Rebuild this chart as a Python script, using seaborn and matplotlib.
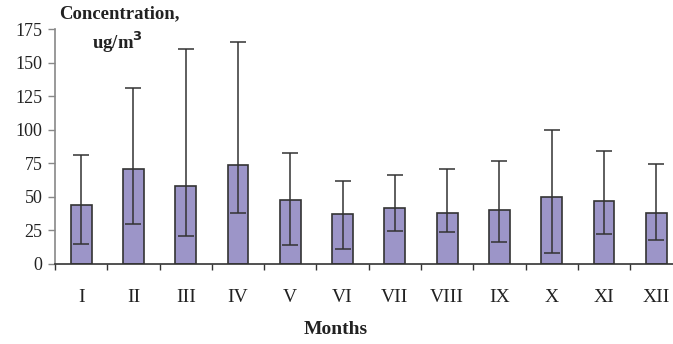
import matplotlib
matplotlib.use("Agg")
import matplotlib.pyplot as plt
import pandas as pd
import seaborn as sns
import numpy as np

# Monthly mean concentration with lower / upper whisker ends (ug/m3)
months = ["I", "II", "III", "IV", "V", "VI", "VII", "VIII", "IX", "X", "XI", "XII"]
mean_conc = [44, 71, 58, 74, 48, 37, 42, 38, 40, 50, 47, 38]
err_low = [15, 29.5, 20.5, 38, 14, 11, 24.5, 23.5, 16.5, 8, 22, 18]
err_high = [81.5, 131, 160, 165.5, 82.5, 62, 66, 70.5, 77, 100, 84.5, 74.5]

df = pd.DataFrame({"month": months, "value": mean_conc})

sns.set_style("white")
plt.rcParams["font.family"] = ["Liberation Serif", "DejaVu Serif"]

fig = plt.figure(figsize=(6.73, 3.44), dpi=100)
ax = fig.add_axes([55 / 673, 80 / 344, 1 - 55 / 673, 235 / 344])

sns.barplot(data=df, x="month", y="value", order=months, color="#9c95c8",
            width=0.4, edgecolor="#333333", linewidth=1.2, errorbar=None,
            saturation=1, ax=ax)

pos = np.arange(len(months))
lo = np.array(mean_conc) - np.array(err_low)
hi = np.array(err_high) - np.array(mean_conc)
ax.errorbar(pos, mean_conc, yerr=[lo, hi], fmt="none", ecolor="#333333",
            elinewidth=1.1, capsize=5.5, capthick=1.1)

ax.set_xlim(-0.5, 11.32)
ax.set_ylim(0, 175)
ax.set_yticks(np.arange(0, 176, 25))
ax.set_xticks(pos)
ax.set_xticklabels(months)
# tick marks sit between the categories
ax.set_xticks(np.arange(-0.5, 11.5, 1), minor=True)
ax.tick_params(axis="x", which="major", bottom=False, length=0, pad=18,
               labelsize=14, labelcolor="#222222")
ax.tick_params(axis="x", which="minor", bottom=True, length=4, width=1,
               color="#333333", direction="out")
ax.tick_params(axis="y", length=5, width=1, color="#888888", direction="out",
               labelsize=13, labelcolor="#222222", left=True, pad=4)
ax.set_xlabel("")
ax.set_ylabel("")

for s in ["top", "right"]:
    ax.spines[s].set_visible(False)
ax.spines["left"].set_color("#888888")
ax.spines["left"].set_linewidth(1.2)
ax.spines["bottom"].set_color("#333333")
ax.spines["bottom"].set_linewidth(1.2)

fig.text(119 / 673, 1 - 14 / 344, "Concentration,", ha="center", va="center",
         fontsize=13.5, fontweight="bold", color="#222222")
fig.text(117 / 673, 1 - 49 / 344, "ug/m$^\\mathbf{3}$", ha="center", va="baseline",
         fontsize=13.5, fontweight="bold", color="#222222")
fig.text(336 / 673, 1 - 330 / 344, "Months", ha="center", va="center",
         fontsize=14, fontweight="bold", color="#222222")

fig.savefig("out.png", dpi=100)
